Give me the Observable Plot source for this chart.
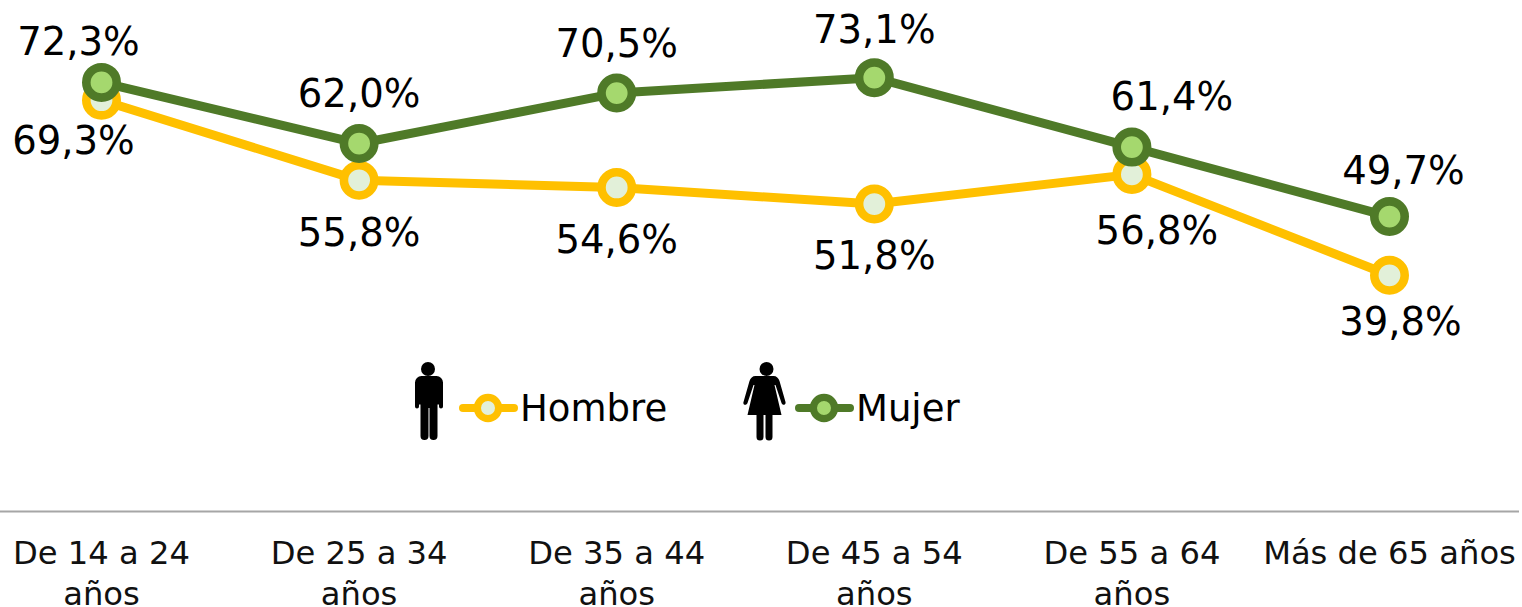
<!DOCTYPE html>
<html>
<head>
<meta charset="utf-8">
<script src="https://cdn.jsdelivr.net/npm/d3@7"></script>
<script src="https://cdn.jsdelivr.net/npm/@observablehq/plot@0.6"></script>
<style>
html,body{margin:0;padding:0;background:#fff;overflow:hidden}
#wrap{position:relative;width:1522px;height:607px;font-family:"DejaVu Sans",sans-serif}
#legend{position:absolute;left:0;top:0;width:1522px;height:607px;pointer-events:none}
</style>
</head>
<body>
<div id="wrap"></div>
<script>
const categories = ["De 14 a 24\naños","De 25 a 34\naños","De 35 a 44\naños","De 45 a 54\naños","De 55 a 64\naños","Más de 65 años"];
const hombre = [69.3,55.8,54.6,51.8,56.8,39.8];
const mujer = [72.3,62.0,70.5,73.1,61.4,49.7];
const hombreOffsets = [[-28,41],[0,53],[0,53],[0,53],[25,57],[11,47]];
const mujerOffsets = [[-23,-40],[0,-49],[0,-48],[0,-47],[40,-49],[14,-45]];
const fmt = v => v.toFixed(1).replace(".",",") + "%";
const tbl = vals => categories.map((c,i)=>({c,v:vals[i]}));

function series(vals, stroke, fill){
  const data = tbl(vals);
  return [
    Plot.line(data,{x:"c",y:"v",stroke,strokeWidth:9,curve:"linear"}),
    Plot.dot(data,{x:"c",y:"v",r:15.2,stroke,strokeWidth:8.6,fill,fillOpacity:1})
  ];
}
function labels(vals, offsets){
  return tbl(vals).map((d,i)=>Plot.text([d],{x:"c",y:"v",text:e=>fmt(e.v),dx:offsets[i][0],dy:offsets[i][1],fontSize:38.6,fill:"#000"}));
}
const chart = Plot.plot({
  width:1522,height:607,marginTop:0,marginBottom:96,marginLeft:0,marginRight:0,
  style:{background:"#fff",fontFamily:'"DejaVu Sans",sans-serif',overflow:"visible"},
  x:{type:"point",domain:categories,range:[101,1389],padding:0,round:false,label:null},
  y:{domain:[0,86.1],axis:null,label:null},
  marks:[
    Plot.ruleY([0],{stroke:"#A6A6A6",strokeWidth:2,insetRight:3}),
    Plot.axisX({anchor:"bottom",tickSize:0,tickPadding:24,fontSize:32.2,lineHeight:1.26,fill:"#111",label:null,lineAnchor:"top"}),
    ...series(hombre,"#FFC000","#E2F0D9"),
    ...series(mujer,"#4F7A28","#A5D86E"),
    ...labels(hombre,hombreOffsets),
    ...labels(mujer,mujerOffsets)
  ]
});
const wrap = document.getElementById("wrap");
wrap.appendChild(chart);
const ns = `<svg id="legend" xmlns="http://www.w3.org/2000/svg" width="1522" height="607" font-family="DejaVu Sans, sans-serif">
<g fill="#000">
<circle cx="428" cy="369" r="7"/>
<path d="M419.500 376h17a6.500 6.500 0 0 1 6.500 6.500v24a2 2 0 0 1-4 0v-2h-1.500v31.500a4 4 0 0 1-8 0v-28h-1v28a4 4 0 0 1-8 0v-31.500h-1.500v2a2 2 0 0 1-4 0v-24a6.500 6.500 0 0 1 6.500-6.500z"/>
<g transform="translate(1.500 0)">
<circle cx="765" cy="369" r="7"/>
<path d="M758 376h14c3 0 5 2 6 5l6 21c.6 3-3 4-4 1l-6-18-1 0 7 30h-9v22a3.500 3.500 0 0 1-7 0v-22h-2v22a3.500 3.500 0 0 1-7 0v-22h-9l7-30-1 0-6 18c-1 3-5 2-4-1l6-21c1-3 3-5 6-5z"/>
</g>
</g>
<line x1="463" x2="514" y1="408" y2="408" stroke="#FFC000" stroke-width="8" stroke-linecap="round"/>
<circle cx="488" cy="408" r="10.600" fill="#E2F0D9" stroke="#FFC000" stroke-width="7.200"/>
<text x="520" y="421" font-size="37" fill="#000">Hombre</text>
<line x1="799" x2="850" y1="408" y2="408" stroke="#4F7A28" stroke-width="8" stroke-linecap="round"/>
<circle cx="824" cy="408" r="10.600" fill="#A5D86E" stroke="#4F7A28" stroke-width="7.200"/>
<text x="856" y="421" font-size="37" fill="#000">Mujer</text>
</svg>`;
wrap.insertAdjacentHTML("beforeend", ns);
</script>
</body>
</html>
